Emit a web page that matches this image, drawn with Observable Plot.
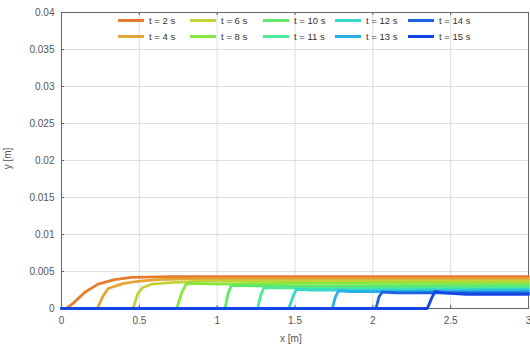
<!DOCTYPE html>
<html><head><meta charset="utf-8">
<script src="https://cdn.jsdelivr.net/npm/d3@7"></script>
<script src="https://cdn.jsdelivr.net/npm/@observablehq/plot@0.6"></script>
<style>
body{margin:0;background:#fff;font-family:"Liberation Sans",Arial,sans-serif;}
#wrap{position:relative;width:530px;height:349px;}
.leg{position:absolute;font-size:9.5px;color:#333;display:flex;align-items:center;white-space:nowrap;}
.leg span.sw{display:inline-block;width:26px;height:2.5px;margin-right:5px;}
</style></head>
<body><div id="wrap"></div>
<script>
const times = [2,4,6,8,10,11,12,13,14,15];
const colors = ["#e87b2c","#e3a534","#c4d23a","#86e83e","#5ee86a","#4fe89a","#35d8c6","#2ab0e6","#1a62e0","#1446e6"];
const xTicks = [0,0.5,1,1.5,2,2.5,3];
const yTicks = [0,0.005,0.01,0.015,0.02,0.025,0.03,0.035,0.04];
const yTickLabels = ["0","0.005","0.01","0.015","0.02","0.025","0.03","0.035","0.04"];
const xTickLabels = ["0","0.5","1","1.5","2","2.5","3"];

const curve_t2  = [[0,0],[0.03,0],[0.08,0.0008],[0.15,0.0022],[0.235,0.0033],[0.34,0.0039],[0.45,0.0042],[0.7,0.0043],[1.5,0.0043],[3,0.0043]];
const curve_t4  = [[0,0],[0.23,0],[0.27,0.0018],[0.3,0.0027],[0.4,0.0034],[0.5,0.0037],[0.62,0.0039],[0.8,0.0040],[3,0.0040]];
const curve_t6  = [[0,0],[0.46,0],[0.49,0.0020],[0.52,0.0028],[0.58,0.0033],[0.7,0.0035],[0.9,0.0037],[3,0.0037]];
const curve_t8  = [[0,0],[0.74,0],[0.77,0.0020],[0.80,0.0033],[0.85,0.0034],[1.0,0.0033],[1.5,0.0034],[3,0.0034]];
const curve_t10 = [[0,0],[1.05,0],[1.07,0.0020],[1.09,0.0031],[1.15,0.0031],[1.4,0.0030],[3,0.0031]];
const curve_t11 = [[0,0],[1.26,0],[1.28,0.0018],[1.30,0.0028],[1.4,0.0028],[1.7,0.0027],[3,0.0028]];
const curve_t12 = [[0,0],[1.46,0],[1.49,0.0018],[1.51,0.0026],[1.6,0.0025],[2,0.0025],[3,0.0026]];
const curve_t13 = [[0,0],[1.74,0],[1.76,0.0016],[1.78,0.0024],[1.85,0.0023],[2.2,0.0023],[3,0.0024]];
const curve_t14 = [[0,0],[2.02,0],[2.04,0.0016],[2.06,0.0022],[2.15,0.0021],[2.5,0.0021],[3,0.0021]];
const curve_t15 = [[0,0],[2.35,0],[2.38,0.0015],[2.40,0.0023],[2.45,0.0021],[2.6,0.0019],[3,0.0019]];
const curves = [curve_t2,curve_t4,curve_t6,curve_t8,curve_t10,curve_t11,curve_t12,curve_t13,curve_t14,curve_t15];

const rows = [];
curves.forEach((c,i)=>c.forEach(([x,y])=>rows.push({t:"t = "+times[i]+" s", x, y})));
const labels = times.map(t=>"t = "+t+" s");

const fmtX = d => xTickLabels[xTicks.findIndex(v=>Math.abs(v-d)<1e-9)];
const fmtY = d => yTickLabels[yTicks.findIndex(v=>Math.abs(v-d)<1e-9)];

const plot = Plot.plot({
  width:530, height:349,
  marginLeft:61, marginRight:2, marginTop:12, marginBottom:41,
  style:{fontFamily:"Liberation Sans, Arial, sans-serif", fontSize:"10px", color:"#444"},
  x:{domain:[0,3], label:null},
  y:{domain:[0,0.04], label:null},
  color:{domain:labels, range:colors},
  marks:[
    Plot.gridX(xTicks,{stroke:"#dcdcdc", strokeOpacity:1}),
    Plot.gridY(yTicks,{stroke:"#dcdcdc", strokeOpacity:1}),
    Plot.axisX(xTicks,{tickSize:0, tickPadding:8, fill:"#555", tickFormat:fmtX, label:null}),
    Plot.axisY(yTicks,{tickSize:0, tickPadding:7, fill:"#555", tickFormat:fmtY, label:null}),
    Plot.frame({stroke:"#666"}),
    Plot.tickX(xTicks,{x:d=>d, stroke:"#666", insetTop:293}),
    Plot.tickX(xTicks,{x:d=>d, stroke:"#666", insetBottom:293}),
    Plot.tickY(yTicks,{y:d=>d, stroke:"#666", insetRight:464}),
    Plot.line(rows,{x:"x", y:"y", z:"t", stroke:"t", strokeWidth:2.8, strokeLinejoin:"round"})
  ]
});
const wrap = document.getElementById("wrap");
wrap.appendChild(plot);

// axis titles
const xl = document.createElement("div");
xl.textContent = "x [m]";
xl.style.cssText = "position:absolute;left:280px;top:333px;font-size:10px;color:#555;";
wrap.appendChild(xl);
const yl = document.createElement("div");
yl.textContent = "y [m]";
yl.style.cssText = "position:absolute;left:-3px;top:153px;font-size:10px;color:#555;transform:rotate(-90deg);";
wrap.appendChild(yl);

// legend (two rows, five columns, column-major)
const colX = [118,190,263,335,408];
const rowY = [15,31];
labels.forEach((lab,i)=>{
  const c = Math.floor(i/2), r = i%2;
  const d = document.createElement("div");
  d.className = "leg";
  d.style.left = colX[c]+"px";
  d.style.top = rowY[r]+"px";
  d.innerHTML = `<span class="sw" style="background:${colors[i]}"></span>${lab}`;
  wrap.appendChild(d);
});
</script></body></html>
